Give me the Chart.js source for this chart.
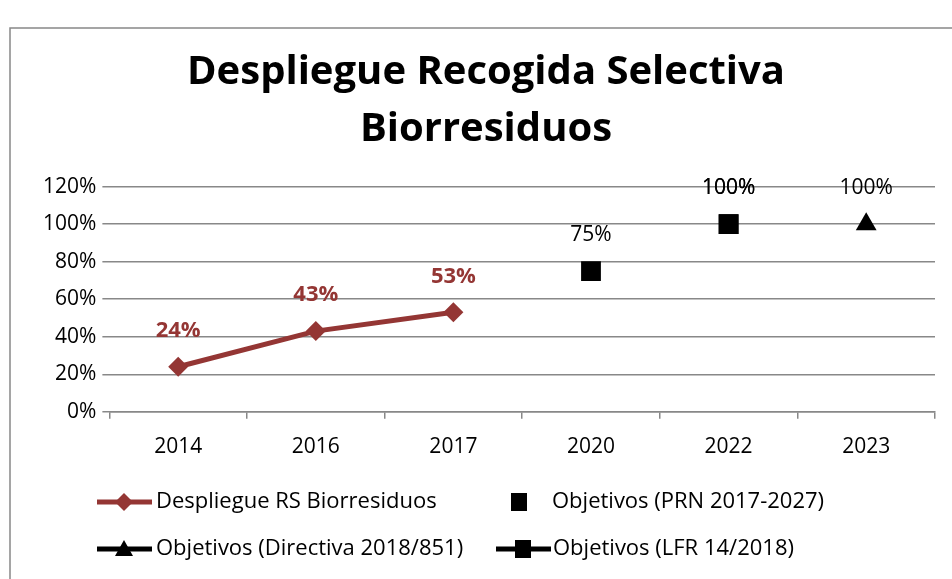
<!DOCTYPE html>
<html>
<head>
<meta charset="utf-8">
<script src="https://cdn.jsdelivr.net/npm/chart.js@4"></script>
<style>
  html, body { margin: 0; padding: 0; background: #fff; }
  #wrap { width: 952px; height: 579px; position: relative; }
</style>
</head>
<body>
<div id="wrap"><canvas id="grafico"></canvas></div>
<script>
// datos del gráfico
const years = ['2014', '2016', '2017', '2020', '2022', '2023'];
const despliegue = [24, 43, 53, null, null, null];
const objPRN = [null, null, null, 75, 100, null];
const objDirectiva = [null, null, null, null, null, 100];
const objLFR = [null, null, null, null, 100, null];
const yTicks = [0, 20, 40, 60, 80, 100, 120];

const FONT = '"Open Sans", sans-serif';
const ROJO = '#943634';

// etiquetas de datos encima de cada punto
const etiquetas = {
  id: 'etiquetas',
  afterDatasetsDraw(chart) {
    const ctx = chart.ctx;
    ctx.save();
    ctx.textAlign = 'center';
    ctx.textBaseline = 'middle';
    chart.data.datasets.forEach((ds, i) => {
      const meta = chart.getDatasetMeta(i);
      meta.data.forEach((pt, j) => {
        const v = ds.data[j];
        if (v == null) return;
        if (i === 0) {
          ctx.font = 'bold 22px ' + FONT;
          ctx.fillStyle = ROJO;
        } else {
          ctx.font = '21px ' + FONT;
          ctx.fillStyle = '#000';
        }
        ctx.fillText(v + '%', pt.x, pt.y - 36);
      });
    });
    ctx.restore();
  }
};

// leyenda a mano (línea + marcador) y marco exterior
const leyenda = {
  id: 'leyenda',
  afterDraw(chart) {
    const ctx = chart.ctx;
    ctx.save();
    // marco
    ctx.strokeStyle = '#888';
    ctx.lineWidth = 1.5;
    ctx.beginPath();
    ctx.moveTo(10, 600);
    ctx.lineTo(10, 28);
    ctx.lineTo(960, 28);
    ctx.stroke();

    const items = [
      { x: 97, y: 502, color: ROJO, line: true, marker: 'diamond', text: 'Despliegue RS Biorresiduos', tx: 156 },
      { x: 492, y: 502, color: '#000', line: false, marker: 'square', text: 'Objetivos (PRN 2017-2027)', tx: 552 },
      { x: 97, y: 549, color: '#000', line: true, marker: 'triangle', text: 'Objetivos (Directiva 2018/851)', tx: 156 },
      { x: 496, y: 549, color: '#000', line: true, marker: 'square', text: 'Objetivos (LFR 14/2018)', tx: 553 }
    ];
    items.forEach(it => {
      const cx = it.x + 27;
      ctx.fillStyle = it.color;
      ctx.strokeStyle = it.color;
      if (it.line) {
        ctx.lineWidth = 5;
        ctx.beginPath();
        ctx.moveTo(it.x, it.y);
        ctx.lineTo(it.x + 55, it.y);
        ctx.stroke();
      }
      ctx.beginPath();
      if (it.marker === 'diamond') {
        ctx.moveTo(cx, it.y - 9); ctx.lineTo(cx + 9, it.y);
        ctx.lineTo(cx, it.y + 9); ctx.lineTo(cx - 9, it.y);
      } else if (it.marker === 'square') {
        ctx.rect(cx - 8, it.y - 9, 16, 18);
      } else {
        ctx.moveTo(cx, it.y - 9); ctx.lineTo(cx + 9, it.y + 7); ctx.lineTo(cx - 9, it.y + 7);
      }
      ctx.closePath();
      ctx.fill();
      ctx.font = '22px ' + FONT;
      ctx.fillStyle = '#000';
      ctx.textAlign = 'left';
      ctx.textBaseline = 'middle';
      ctx.fillText(it.text, it.tx, it.y);
    });
    ctx.restore();
  }
};

new Chart(document.getElementById('grafico'), {
  type: 'line',
  data: {
    labels: years,
    datasets: [
      {
        label: 'Despliegue RS Biorresiduos',
        data: despliegue,
        borderColor: ROJO,
        backgroundColor: ROJO,
        borderWidth: 5,
        pointStyle: 'rectRot',
        pointRadius: 10,
        pointBorderWidth: 0,
        spanGaps: false
      },
      {
        label: 'Objetivos (PRN 2017-2027)',
        data: objPRN,
        showLine: false,
        borderColor: '#000',
        backgroundColor: '#000',
        pointStyle: 'rect',
        pointRadius: 14,
        pointBorderWidth: 0
      },
      {
        label: 'Objetivos (Directiva 2018/851)',
        data: objDirectiva,
        borderColor: '#000',
        backgroundColor: '#000',
        pointStyle: 'triangle',
        pointRadius: 12,
        pointBorderWidth: 0
      },
      {
        label: 'Objetivos (LFR 14/2018)',
        data: objLFR,
        borderColor: '#000',
        backgroundColor: '#000',
        pointStyle: 'rect',
        pointRadius: 14,
        pointBorderWidth: 0
      }
    ]
  },
  options: {
    responsive: true,
    maintainAspectRatio: false,
    animation: false,
    layout: { padding: { left: 37, right: 17, top: 44, bottom: 103 } },
    scales: {
      x: {
        offset: true,
        grid: { offset: true, drawOnChartArea: false, drawTicks: true, tickLength: 7, color: '#888', lineWidth: 1.5 },
        border: { color: '#888', width: 1.5 },
        ticks: { color: '#000', font: { family: FONT, size: 21 }, padding: 16 }
      },
      y: {
        min: 0,
        max: 120,
        afterBuildTicks: axis => { axis.ticks = yTicks.map(v => ({ value: v })); },
        grid: { color: '#888', lineWidth: 1.5, tickLength: 7 },
        border: { display: false },
        ticks: { color: '#000', font: { family: FONT, size: 21 }, padding: 6, callback: v => v + '%' }
      }
    },
    plugins: {
      legend: { display: false },
      tooltip: { enabled: false },
      title: {
        display: true,
        text: ['Despliegue Recogida Selectiva', 'Biorresiduos'],
        color: '#000',
        font: { family: FONT, size: 40, weight: 'bold', lineHeight: 1.42 },
        padding: { top: 0, bottom: 29 }
      }
    }
  },
  plugins: [etiquetas, leyenda]
});
</script>
</body>
</html>
